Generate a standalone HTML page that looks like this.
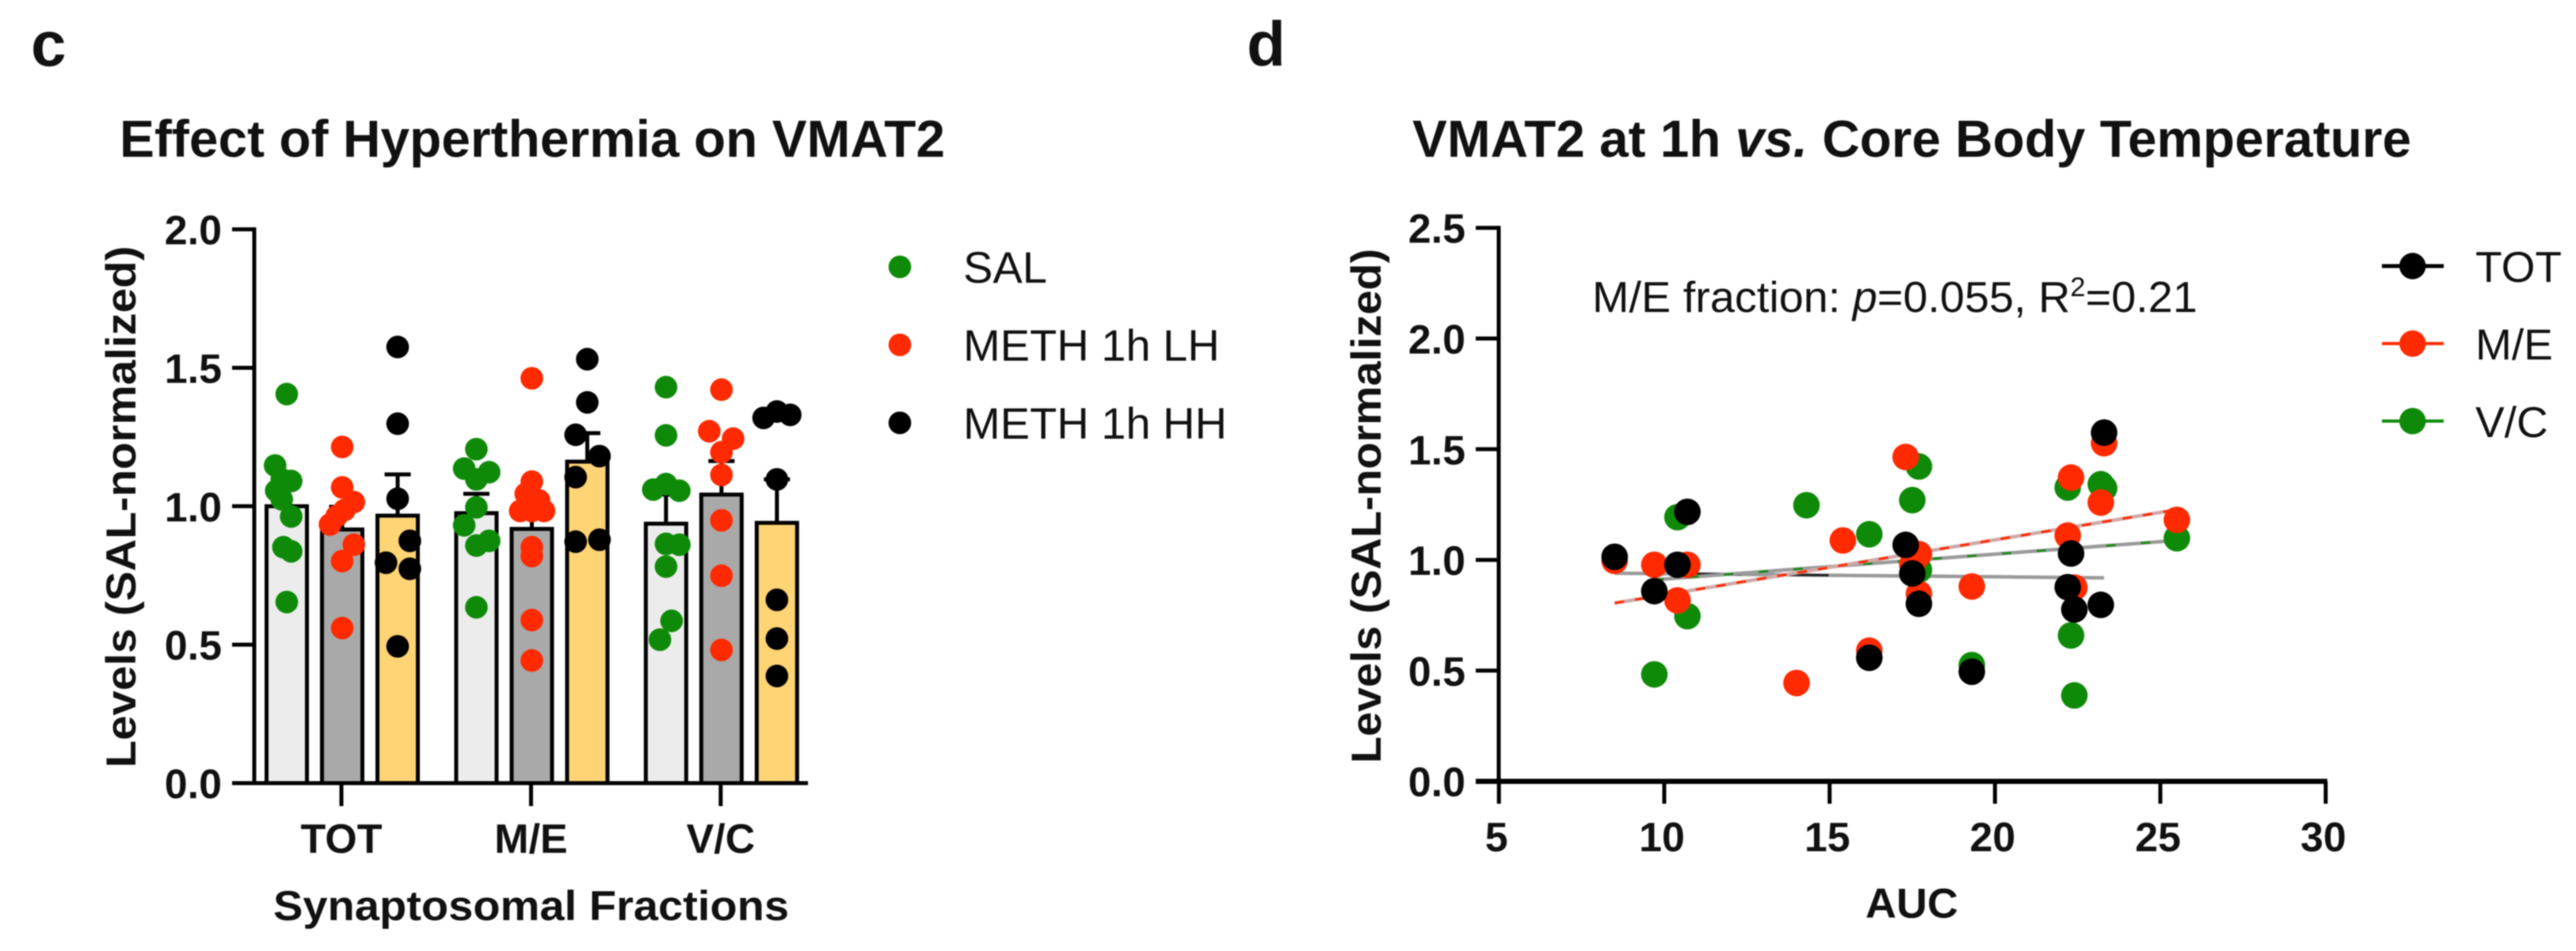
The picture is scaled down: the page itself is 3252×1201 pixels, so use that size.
<!DOCTYPE html>
<html lang="en">
<head>
<meta charset="utf-8">
<title>VMAT2 figure panels c and d</title>
<style>
html,body{margin:0;padding:0;background:#fff;}
svg{display:block;filter:blur(0.9px);}
text{font-family:"Liberation Sans",Arial,sans-serif;fill:#111;}
.b{font-weight:700;}
</style>
</head>
<body>
<svg id="fig" xmlns="http://www.w3.org/2000/svg" width="3252" height="1201" viewBox="0 0 3252 1201">
  <rect x="0" y="0" width="3252" height="1201" fill="#fff"/>
  <text class="b" x="39" y="83" font-size="80">c</text>
  <text class="b" x="1574" y="83" font-size="80">d</text>
  <text class="b" x="151" y="198" font-size="66" textLength="1042" lengthAdjust="spacingAndGlyphs">Effect of Hyperthermia on VMAT2</text>
  <text class="b" x="1783" y="198" font-size="66" textLength="1261" lengthAdjust="spacingAndGlyphs">VMAT2 at 1h <tspan font-style="italic">vs.</tspan> Core Body Temperature</text>
  <text class="b" transform="translate(171,640) rotate(-90)" text-anchor="middle" font-size="53" textLength="659" lengthAdjust="spacingAndGlyphs">Levels (SAL-normalized)</text>
  <text class="b" transform="translate(1743,639) rotate(-90)" text-anchor="middle" font-size="53" textLength="650" lengthAdjust="spacingAndGlyphs">Levels (SAL-normalized)</text>
  <text class="b" x="345" y="1162" font-size="53" textLength="651" lengthAdjust="spacingAndGlyphs">Synaptosomal Fractions</text>
  <text class="b" x="2355" y="1159" font-size="53" textLength="117" lengthAdjust="spacingAndGlyphs">AUC</text>
  <text x="2010" y="394" font-size="55" textLength="764" lengthAdjust="spacingAndGlyphs">M/E fraction: <tspan font-style="italic">p</tspan>=0.055, R<tspan font-size="34" dy="-20">2</tspan><tspan dy="20">=0.21</tspan></text>
  <g id="panelC"></g>
  <g id="panelD"></g>
</svg>
<script>
// ---------- Panel c data ----------
const groups = ['TOT', 'M/E', 'V/C'];
const barTicks = ['0.0', '0.5', '1.0', '1.5', '2.0'];
const barTickValues = [0, 0.5, 1, 1.5, 2];
const salMeans = [1.0, 0.975, 0.937];
const lhMeans = [0.916, 0.918, 1.042];
const hhMeans = [0.966, 1.161, 0.94];
const salSem = [0.07, 0.07, 0.105];
const lhSem = [0.082, 0.08, 0.121];
const hhSem = [0.149, 0.103, 0.157];
const salTot = [1.405, 1.147, 1.097, 1.091, 1.056, 1.025, 0.963, 0.852, 0.837, 0.654];
const salTotJitter = [0, -0.21, -0.09, 0.08, -0.19, -0.09, 0.08, -0.06, 0.08, 0];
const lhTot = [1.214, 1.068, 1.015, 0.986, 0.964, 0.934, 0.861, 0.802, 0.56];
const lhTotJitter = [0, 0, 0.21, 0.04, -0.1, -0.22, 0.21, 0, 0];
const hhTot = [1.575, 1.298, 1.027, 0.875, 0.796, 0.774, 0.494];
const hhTotJitter = [0, 0, 0, 0.22, -0.21, 0.22, 0];
const salMe = [1.206, 1.136, 1.123, 1.097, 0.996, 0.931, 0.875, 0.858, 0.635];
const salMeJitter = [0, -0.22, 0.23, 0, 0, -0.22, 0.23, 0, 0];
const lhMe = [1.462, 1.089, 1.045, 1.021, 0.983, 0.983, 0.983, 0.852, 0.82, 0.589, 0.443];
const lhMeJitter = [0, 0, -0.11, 0.13, -0.21, 0, 0.22, 0, 0, 0, 0];
const hhMe = [1.531, 1.375, 1.258, 1.181, 1.105, 0.879, 0.872];
const hhMeJitter = [0, 0, -0.21, 0.22, -0.21, 0.22, -0.21];
const salVc = [1.43, 1.256, 1.08, 1.06, 1.056, 0.864, 0.861, 0.782, 0.586, 0.518];
const salVcJitter = [0, 0, 0, -0.23, 0.24, 0, 0.24, 0, 0.1, -0.11];
const lhVc = [1.421, 1.271, 1.244, 1.195, 1.113, 0.949, 0.749, 0.481];
const lhVcJitter = [0, -0.22, 0.21, 0, 0, 0, 0, 0];
const hhVc = [1.342, 1.33, 1.319, 1.097, 0.662, 0.522, 0.387];
const hhVcJitter = [0, 0.24, -0.24, 0, 0, 0, 0];
const barLegend = ['SAL', 'METH 1h LH', 'METH 1h HH'];

// ---------- Panel d data ----------
const aucTicks = [5, 10, 15, 20, 25, 30];
const levelTicks = [0, 0.5, 1, 1.5, 2, 2.5];
const levelTickLabels = ['0.0', '0.5', '1.0', '1.5', '2.0', '2.5'];
const vcAuc = [9.7, 10.4, 10.7, 14.3, 16.2, 17.5, 17.7, 17.7, 19.3, 22.2, 22.3, 22.4, 23.2, 23.3, 25.5];
const vcLevels = [0.483, 1.193, 0.746, 1.247, 1.116, 1.27, 1.422, 0.955, 0.525, 1.327, 0.659, 0.388, 1.342, 1.324, 1.098];
const meAuc = [8.5, 9.7, 10.4, 10.7, 14.0, 15.4, 16.2, 17.3, 17.5, 17.7, 17.7, 19.3, 22.2, 22.3, 22.4, 23.2, 23.3, 25.5];
const meLevels = [0.996, 0.978, 0.817, 0.978, 0.444, 1.088, 0.59, 1.465, 0.98, 1.026, 0.847, 0.88, 1.11, 1.372, 0.875, 1.259, 1.527, 1.181];
const totAuc = [8.5, 9.7, 10.4, 10.7, 16.2, 17.3, 17.5, 17.7, 19.3, 22.2, 22.3, 22.4, 23.2, 23.3];
const totLevels = [1.014, 0.859, 0.978, 1.217, 0.558, 1.068, 0.939, 0.802, 0.495, 0.877, 1.029, 0.776, 0.797, 1.575];
const vcFitAuc = [9.7, 25.5];
const vcFitLevels = [0.91, 1.088];
const meFitAuc = [8.5, 25.5];
const meFitLevels = [0.805, 1.227];
const totFitAuc = [8.5, 23.3];
const totFitLevels = [0.94, 0.919];
const scatterLegend = ['TOT', 'M/E', 'V/C'];

// ---------- Styles ----------
const GREEN = '#0e8a08', RED = '#ff2a00', BLACK = '#000';
const NS = 'http://www.w3.org/2000/svg';
function mk(tag, parent, attrs, txt) {
  const el = document.createElementNS(NS, tag);
  for (const k in attrs) el.setAttribute(k, attrs[k]);
  if (txt !== undefined) el.textContent = txt;
  parent.appendChild(el);
  return el;
}

// ---------- Panel c axes ----------
const pc = document.getElementById('panelC');
const barY = v => 989 - v * 349.7;
const groupX = g => 432 + g * 239.4;
const slotX = (g, s, j) => groupX(g) + (s - 1 + (j || 0)) * 70;

const barFills = ['#ececec', '#a9a9a9', '#ffd475'];
const dotFills = [GREEN, RED, BLACK];
const barNames = ['sal', 'lh', 'hh'];
const means = [salMeans, lhMeans, hhMeans];
const sems = [salSem, lhSem, hhSem];
const pts = [[salTot, lhTot, hhTot], [salMe, lhMe, hhMe], [salVc, lhVc, hhVc]];
const jit = [[salTotJitter, lhTotJitter, hhTotJitter], [salMeJitter, lhMeJitter, hhMeJitter], [salVcJitter, lhVcJitter, hhVcJitter]];

for (let g = 0; g < groups.length; g++) {
  for (let s = 0; s < 3; s++) {
    const cx = slotX(g, s);
    const stem = mk('line', pc, {x1: cx, x2: cx, y1: barY(means[s][g]), y2: barY(means[s][g] + sems[s][g]), stroke: '#000', 'stroke-width': 5});
    
    
    const cap = mk('line', pc, {x1: cx - 16.5, x2: cx + 16.5, y1: barY(means[s][g] + sems[s][g]), y2: barY(means[s][g] + sems[s][g]), stroke: '#000', 'stroke-width': 5});
    
    
    const bar = mk('rect', pc, {x: cx - 25.5, width: 51, y: barY(means[s][g]), height: barY(0) - barY(means[s][g]), fill: barFills[s], stroke: '#000', 'stroke-width': 5});
    
    
  }
}
for (let g = 0; g < groups.length; g++) {
  for (let s = 0; s < 3; s++) {
    pts[g][s].forEach((v, i) => {
      const dot = mk('circle', pc, {cx: slotX(g, s, jit[g][s][i]), cy: barY(v), r: 14.3, fill: dotFills[s]});
      
      
    });
  }
}
const axYc = mk('line', pc, {x1: 321, x2: 321, y1: barY(2) - 2.5, y2: barY(0) + 2.5, stroke: '#000', 'stroke-width': 5});


const axXc = mk('line', pc, {x1: 293, x2: 1020, y1: barY(0), y2: barY(0), stroke: '#000', 'stroke-width': 5});


barTickValues.forEach((v, i) => {
  const t = mk('line', pc, {x1: 293, x2: 321, y1: barY(v), y2: barY(v), stroke: '#000', 'stroke-width': 5});
  
  
  const l = mk('text', pc, {x: 280, y: barY(v) + 19, 'text-anchor': 'end', 'font-size': 52, 'font-weight': 700}, barTicks[i]);
  
  
});
groups.forEach((name, g) => {
  const t = mk('line', pc, {x1: groupX(g) - 1, x2: groupX(g) - 1, y1: barY(0), y2: 1018, stroke: '#000', 'stroke-width': 5});
  
  
  const l = mk('text', pc, {x: groupX(g) - 1, y: 1077, 'text-anchor': 'middle', 'font-size': 52, 'font-weight': 700}, name);
  
  
});
barLegend.forEach((name, i) => {
  const yy = 337 + i * 98.5;
  const m = mk('circle', pc, {cx: 1136, cy: yy, r: 14.3, fill: dotFills[i]});
  
  
  const l = mk('text', pc, {x: 1216, y: yy + 20, 'font-size': 56}, name);
  
  
});

// ---------- Panel d ----------
const pd = document.getElementById('panelD');
const aucX = a => 2101 + (a - 10) * 41.75;
const lvlY = v => 986.7 - v * 279.6;

const fits = [
  {n: 'tot', xs: totFitAuc, ys: totFitLevels, c: '#222', dash: '0 90 70 50 60 2000', w: 3},
  {n: 'vc', xs: vcFitAuc, ys: vcFitLevels, c: GREEN, dash: '12 32', w: 2.5},
  {n: 'me', xs: meFitAuc, ys: meFitLevels, c: RED, dash: '12 14', w: 3}
];
fits.forEach(f => {
  const halo = mk('line', pd, {x1: aucX(f.xs[0]), x2: aucX(f.xs[1]), y1: lvlY(f.ys[0]), y2: lvlY(f.ys[1]), stroke: f.n === 'me' ? '#d0a8a8' : '#9a9a9a', 'stroke-width': 4.5});
  
  
  const line = mk('line', pd, {x1: aucX(f.xs[0]), x2: aucX(f.xs[1]), y1: lvlY(f.ys[0]), y2: lvlY(f.ys[1]), stroke: f.c, 'stroke-width': f.w, 'stroke-dasharray': f.dash});
  
  
});
const scatterSeries = [
  {n: 'vc', xs: vcAuc, ys: vcLevels, c: GREEN},
  {n: 'me', xs: meAuc, ys: meLevels, c: RED},
  {n: 'tot', xs: totAuc, ys: totLevels, c: BLACK}
];
scatterSeries.forEach(sr => {
  sr.ys.forEach((v, i) => {
    const dot = mk('circle', pd, {cx: aucX(sr.xs[i]), cy: lvlY(v), r: 16.8, fill: sr.c});
    
    
  });
});
const axYd = mk('line', pd, {x1: 1892, x2: 1892, y1: lvlY(2.5) - 2.5, y2: lvlY(0), stroke: '#000', 'stroke-width': 5});


const axXd = mk('line', pd, {x1: 1863, x2: 2938, y1: lvlY(0), y2: lvlY(0), stroke: '#000', 'stroke-width': 6.5});


levelTicks.forEach((v, i) => {
  const t = mk('line', pd, {x1: 1863, x2: 1892, y1: lvlY(v), y2: lvlY(v), stroke: '#000', 'stroke-width': 5});
  
  
  const l = mk('text', pd, {x: 1850, y: lvlY(v) + 19, 'text-anchor': 'end', 'font-size': 52, 'font-weight': 700}, levelTickLabels[i]);
  
  
});
aucTicks.forEach(a => {
  const t = mk('line', pd, {x1: aucX(a), x2: aucX(a), y1: lvlY(0), y2: 1015, stroke: '#000', 'stroke-width': 5});
  
  
  const l = mk('text', pd, {x: aucX(a) - 3, y: 1075, 'text-anchor': 'middle', 'font-size': 52, 'font-weight': 700}, String(a));
  
  
});
const legendColors = [BLACK, RED, GREEN];
scatterLegend.forEach((name, i) => {
  const yy = 336 + i * 97.9;
  const ln = mk('line', pd, {x1: 3007, x2: 3085, y1: yy, y2: yy, stroke: legendColors[i], 'stroke-width': i === 0 ? 5 : 4});
  
  
  const m = mk('circle', pd, {cx: 3045.7, cy: yy, r: 16.7, fill: legendColors[i]});
  
  
  const l = mk('text', pd, {x: 3125, y: yy + 20, 'font-size': 55}, name);
  
  
});
</script>
</body>
</html>
